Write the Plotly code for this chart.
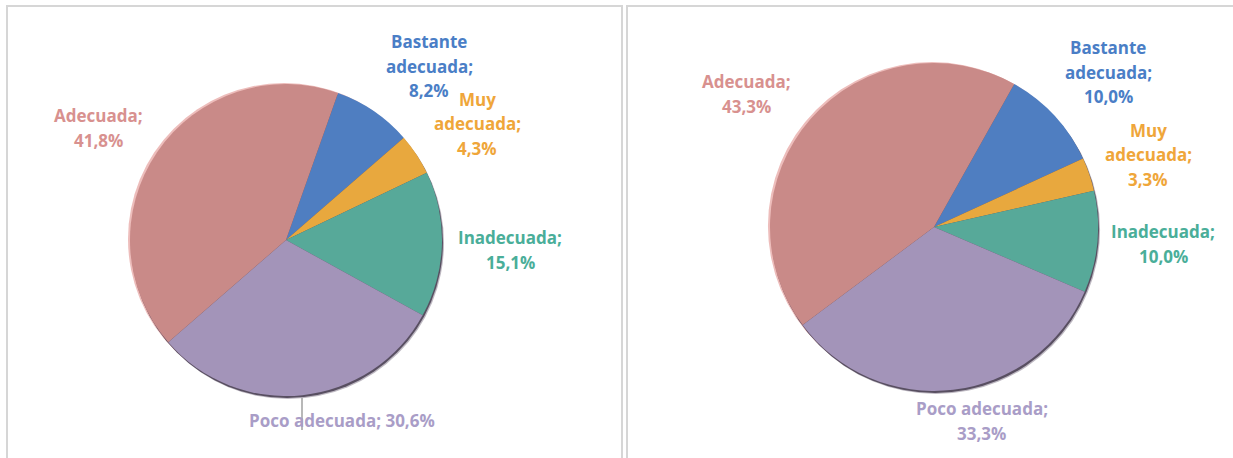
import plotly.graph_objects as go

W, H = 1233, 458

categories = ["Bastante adecuada", "Muy adecuada", "Inadecuada", "Poco adecuada", "Adecuada"]
values_left = [8.2, 4.3, 15.1, 30.6, 41.8]
values_right = [10.0, 3.3, 10.0, 33.3, 43.3]

slice_colors = ["#4F7EC1", "#E8A83E", "#57A999", "#A394B9", "#C98A88"]
text_colors = ["#4A7EC6", "#EFA63A", "#4AAE99", "#A99DC7", "#D8918F"]

# how each label wraps, per chart
wrap_left = [["Bastante", "adecuada;"], ["Muy", "adecuada;"], ["Inadecuada;"],
             ["Poco adecuada;"], ["Adecuada;"]]
wrap_right = [["Bastante", "adecuada;"], ["Muy", "adecuada;"], ["Inadecuada;"],
              ["Poco adecuada;"], ["Adecuada;"]]


def px(x):
    return x / W


def py(y):
    return 1 - y / H


def pct(v):
    return f"{v:.1f}".replace(".", ",") + "%"


def pie_domain(cx, cy, r):
    return dict(x=[px(cx - r), px(cx + r)], y=[py(cy + r), py(cy - r)])


def rim(cx, cy, r, color):
    return go.Pie(
        values=[1], labels=["rim"], domain=pie_domain(cx, cy, r),
        marker=dict(colors=[color], line=dict(width=0)),
        textinfo="none", hoverinfo="skip", sort=False, showlegend=False,
    )


fig = go.Figure()

# pie geometry (pixel centres / radius) and rotation of the first slice
pies = [
    dict(values=values_left, cx=286, cy=240, r=157, rot=19.5),
    dict(values=values_right, cx=934, cy=227, r=165, rot=29.3),
]

for p in pies:
    # light edge on the upper left, dark rim on the lower right
    fig.add_trace(rim(p["cx"] - 2, p["cy"] - 1, p["r"] - 1, "#EDBDBB"))
    fig.add_trace(rim(p["cx"] + 2, p["cy"] + 3, p["r"] - 1, "rgba(110,100,120,0.45)"))
    fig.add_trace(rim(p["cx"] + 1, p["cy"] + 2, p["r"] - 1, "rgba(70,60,80,0.85)"))
    fig.add_trace(go.Pie(
        values=p["values"], labels=categories, domain=pie_domain(p["cx"], p["cy"], p["r"] - 1),
        marker=dict(colors=slice_colors, line=dict(width=0)),
        sort=False, direction="clockwise", rotation=p["rot"],
        textinfo="none", hoverinfo="label+percent", showlegend=False,
    ))

# label centres in pixels
label_pos_left = [(429, 66), (477, 124), (510, 250), (342, 420), (98, 128)]
label_pos_right = [(1108, 72), (1148, 155), (1163, 244), (982, 421), (746, 94)]

LINE = 24.5
annotations = []
for values, wraps, positions in [(values_left, wrap_left, label_pos_left),
                                 (values_right, wrap_right, label_pos_right)]:
    for i, v in enumerate(values):
        lines = list(wraps[i])
        if values is values_left and categories[i] == "Poco adecuada":
            lines[-1] = lines[-1] + " " + pct(v)
        else:
            lines.append(pct(v))
        cx, cy = positions[i]
        n = len(lines)
        for k, t in enumerate(lines):
            yk = cy + (k - (n - 1) / 2) * LINE
            annotations.append(dict(
                x=px(cx), y=py(yk), xref="paper", yref="paper", text=t, showarrow=False,
                xanchor="center", yanchor="middle",
                font=dict(family="Open Sans", size=17, color=text_colors[i], weight="bold"),
            ))

shapes = [
    # panel borders
    dict(type="rect", xref="paper", yref="paper", x0=px(7), x1=px(622), y0=py(470), y1=py(6),
         line=dict(color="#D6D6D6", width=2), layer="below"),
    dict(type="rect", xref="paper", yref="paper", x0=px(627), x1=px(1240), y0=py(470), y1=py(6),
         line=dict(color="#D6D6D6", width=2), layer="below"),
    # leader line for the left "Poco adecuada" label
    dict(type="line", xref="paper", yref="paper", x0=px(302), x1=px(302), y0=py(398), y1=py(430),
         line=dict(color="#A0A0A0", width=1.5)),
]

fig.update_layout(
    width=W, height=H,
    margin=dict(l=0, r=0, t=0, b=0),
    paper_bgcolor="white",
    plot_bgcolor="white",
    showlegend=False,
    annotations=annotations,
    shapes=shapes,
)

fig.write_html("out.html", config={"displayModeBar": False},
               post_script="document.body.style.margin='0';document.body.style.overflow='hidden';")
